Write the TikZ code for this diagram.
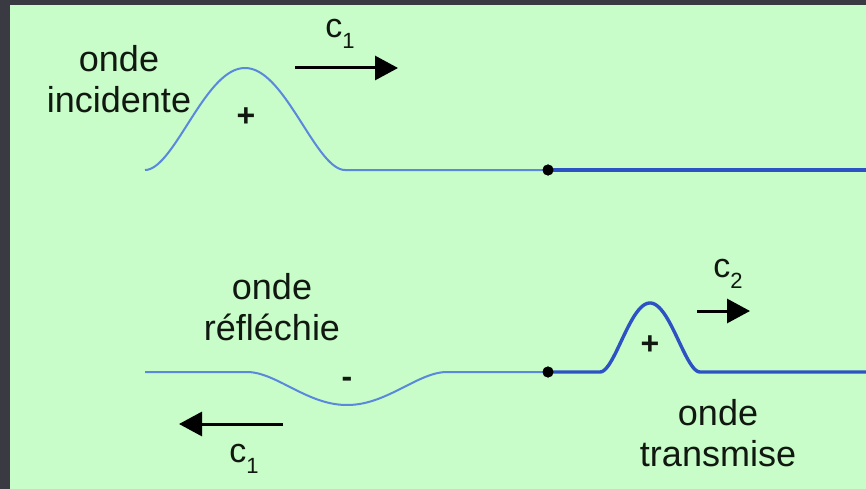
\documentclass[tikz,border=0pt]{standalone}
\usepackage{fontspec}
\setmainfont{Liberation Sans}
\usetikzlibrary{arrows.meta}
\definecolor{bgdark}{HTML}{3A3A42}
\definecolor{bggreen}{HTML}{C8FCC8}
\definecolor{thinblue}{HTML}{5A88DC}
\definecolor{thickblue}{HTML}{2C52C4}
\definecolor{ink}{HTML}{101810}
\tikzset{
  lbl/.style={text=ink, inner sep=0pt, font=\fontsize{36}{41}\selectfont, align=center},
  vlbl/.style={text=ink, inner sep=0pt, font=\fontsize{34}{36}\selectfont},
  sgn/.style={text=ink, inner sep=0pt, font=\fontsize{32}{32}\selectfont\bfseries},
  junction/.style={circle, fill=black, inner sep=0pt, minimum size=11pt},
  thinwave/.style={draw=thinblue, line width=2pt},
  thickwave/.style={draw=thickblue, line width=3.4pt},
  vel/.style={draw=black, line width=3pt, -{Triangle[length=23pt,width=24pt]}}
}
\newcommand{\sub}[1]{\raisebox{-11pt}{\fontsize{22}{22}\selectfont #1}}
\begin{document}
\begin{tikzpicture}[x=1pt,y=-1pt]
\fill[bgdark] (0,0) rectangle (866,489);
\fill[bggreen] (10,5) rectangle (866,489);
\useasboundingbox (0,0) rectangle (866,489);
% top wave
\coordinate (t0) at (145,170);
\coordinate (tend) at (866,170);
\node[junction] (j1) at (548,170) {};
\draw[thinwave] (t0) -- plot[domain=145:345, samples=80, smooth] (\x, {170-102*(1-((\x-245)/100)^2)^2}) -- (j1.center);
\draw[thickwave] (j1.center) -- (tend);
\node[junction] at (548,170) {};
% bottom wave
\coordinate (b0) at (145,372);
\coordinate (bend) at (866,372);
\node[junction] (j2) at (548,372) {};
\draw[thinwave] (b0) -- (247,372) -- plot[domain=247:447, samples=80, smooth] (\x, {372+33*(1-((\x-347)/100)^2)^2}) -- (j2.center);
\draw[thickwave] (j2.center) -- (600,372) -- plot[domain=600:700, samples=60, smooth] (\x, {372-69*(1-((\x-650)/50)^2)^2}) -- (bend);
\node[junction] at (548,372) {};
% labels
\node[lbl] (inc) at (119,79) {onde\\incidente};
\node[lbl] (refl) at (272,307) {onde\\réfléchie};
\node[lbl] (trans) at (718,433) {onde\\transmise};
\node[sgn] (p1) at (246,117) {+};
\node[sgn] (m1) at (347,382) {-};
\node[sgn] (p2) at (650,345) {+};
% velocity arrows
\coordinate (a1s) at (295,68);
\coordinate (a1e) at (398,68);
\draw[vel] (a1s) -- (a1e);
\node[vlbl] (c1t) at (340,34) {c\sub{1}};
\coordinate (a2s) at (283,424);
\coordinate (a2e) at (179,424);
\draw[vel] (a2s) -- (a2e);
\node[vlbl] (c1b) at (244,459) {c\sub{1}};
\coordinate (a3s) at (697,311);
\coordinate (a3e) at (750,311);
\draw[vel] (a3s) -- (a3e);
\node[vlbl] (c2) at (728,274) {c\sub{2}};
\end{tikzpicture}
\end{document}
